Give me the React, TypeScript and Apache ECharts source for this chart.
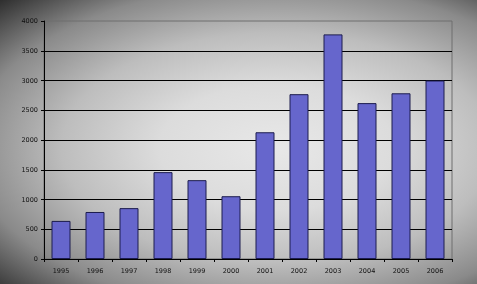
import React, { useEffect, useRef } from "react";
import * as echarts from "echarts";

const years = ["1995", "1996", "1997", "1998", "1999", "2000", "2001", "2002", "2003", "2004", "2005", "2006"];
const values = [640, 790, 855, 1460, 1325, 1055, 2130, 2770, 3775, 2620, 2785, 3000];

export default function App() {
  const ref = useRef<HTMLDivElement>(null);
  useEffect(() => {
    if (!ref.current) return;
    const chart = echarts.init(ref.current, null, { renderer: "svg" });
    const font = "DejaVu Sans";
    chart.setOption({
      animation: false,
      backgroundColor: "transparent",
      grid: {
        left: 44,
        top: 21,
        right: 25,
        bottom: 25,
        show: true,
        borderColor: "#6e6e6e",
        borderWidth: 1,
        backgroundColor: "transparent",
      },
      xAxis: {
        type: "category",
        data: years,
        boundaryGap: true,
        axisLine: { lineStyle: { color: "#000", width: 1 } },
        axisTick: { show: true, length: 3, lineStyle: { color: "#000" } },
        axisLabel: { color: "#111", fontFamily: font, fontSize: 6.5, margin: 8 },
      },
      yAxis: {
        type: "value",
        min: 0,
        max: 4000,
        interval: 500,
        axisLine: { show: true, lineStyle: { color: "#000", width: 1 } },
        axisTick: { show: true, length: 3, lineStyle: { color: "#000" } },
        axisLabel: {
          color: "#111",
          fontFamily: font,
          fontSize: 6.5,
          margin: 6,
          formatter: (v: number) => String(v),
        },
        splitLine: { show: true, showMaxLine: false, lineStyle: { color: "#000", width: 1 } },
      },
      series: [
        {
          type: "bar",
          data: values,
          barWidth: 19,
          itemStyle: { color: "#6666cc", borderColor: "#1c1c4e", borderWidth: 1 },
        },
      ],
    });
    return () => chart.dispose();
  }, []);
  return (
    <div
      ref={ref}
      style={{
        position: "fixed",
        left: 0,
        top: 0,
        width: 477,
        height: 284,
        background:
          "radial-gradient(ellipse farthest-corner at 58% 52%, #e8e8e8 0%, #dcdcdc 30%, #bdbdbd 55%, #8a8a8a 78%, #2e2e2e 100%)",
      }}
    />
  );
}
